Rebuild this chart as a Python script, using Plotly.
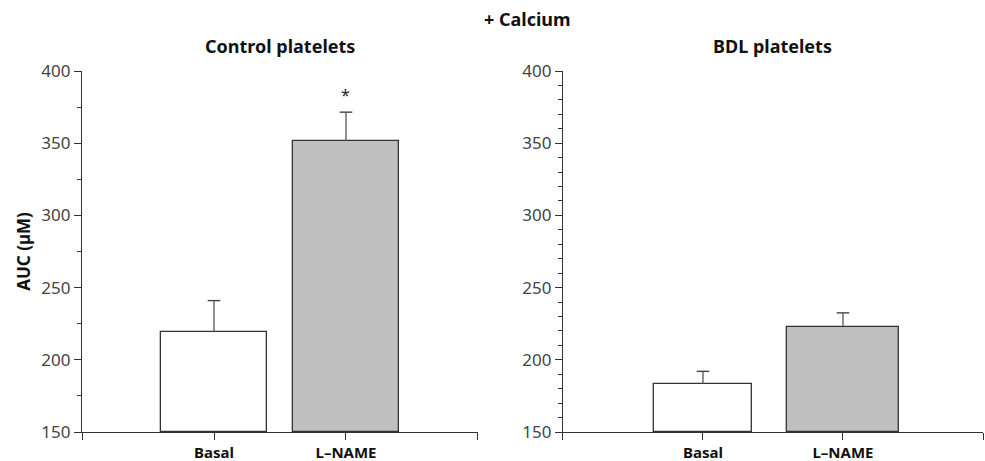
import plotly.graph_objects as go
from plotly.subplots import make_subplots

categories = ["Basal", "L-NAME"]
control_values = [219, 351.5]
control_errors = [22, 20]
bdl_values = [183.5, 222.5]
bdl_errors = [8.5, 10]
bar_colors = ["#ffffff", "#c0c0c0"]
control_widths = [0.8, 0.8]
bdl_widths = [0.7, 0.8]
panel_titles = ["Control platelets", "BDL platelets"]
main_title = "+ Calcium"
y_title = "AUC (µM)"
significance = ["", "*"]

FONT = "Noto Sans"
AX = "#333333"

fig = make_subplots(rows=1, cols=2, horizontal_spacing=0.0943)

xpos = list(range(len(categories)))
for col, (vals, errs, widths) in enumerate(
        [(control_values, control_errors, control_widths),
         (bdl_values, bdl_errors, bdl_widths)], start=1):
    fig.add_trace(go.Bar(
        x=xpos, y=[v - 150 for v in vals], base=150, width=widths,
        marker=dict(color=bar_colors, line=dict(color=AX, width=1.3)),
        error_y=dict(type="data", symmetric=False, array=errs,
                     arrayminus=[0] * len(errs), color="#555555",
                     thickness=1.3, width=0),
        showlegend=False, hoverinfo="skip"), row=1, col=col)
    # caps at the top of the error bars only
    fig.add_trace(go.Scatter(
        x=xpos, y=[v + e for v, e in zip(vals, errs)], mode="markers",
        marker=dict(symbol="line-ew", size=9,
                    line=dict(color="#444444", width=1.4)),
        showlegend=False, hoverinfo="skip", cliponaxis=False), row=1, col=col)

fig.update_layout(
    xaxis=dict(domain=[0, 0.4395]),
    xaxis2=dict(domain=[0.5338, 1]),
)

for i, minor_dtick in zip([1, 2], [25, 10]):
    xa = "xaxis" if i == 1 else "xaxis2"
    ya = "yaxis" if i == 1 else "yaxis2"
    fig.layout[xa].update(
        range=[-1, 2], tickvals=[-1, 0, 1, 2],
        ticktext=["", "<b>Basal</b>", "<b>L\u2013NAME</b>", ""],
        showline=True, linecolor=AX, linewidth=1.3,
        ticks="outside", ticklen=7, tickcolor=AX, tickwidth=1.3,
        showgrid=False, zeroline=False, automargin=False,
        tickfont=dict(family=FONT, size=15, color="#111111"))
    fig.layout[ya].update(
        range=[150, 400], tickvals=[150, 200, 250, 300, 350, 400],
        showline=True, linecolor=AX, linewidth=1.3,
        ticks="outside", ticklen=7, tickcolor=AX, tickwidth=1.3,
        minor=dict(dtick=minor_dtick, ticks="outside", ticklen=4,
                   tickcolor=AX, tickwidth=1.1, showgrid=False),
        showgrid=False, zeroline=False, automargin=False,
        tickfont=dict(family=FONT, size=17, color="#444444"))

fig.layout.yaxis.title = dict(text=f"<b>{y_title}</b>",
                              font=dict(family=FONT, size=17, color="#111111"),
                              standoff=6)

fig.add_annotation(text=f"<b>{main_title}</b>", xref="paper", yref="paper",
                   x=0.495, y=1.144, showarrow=False, xanchor="center", yanchor="middle",
                   font=dict(family=FONT, size=18, color="#111111"))
for i, t in enumerate(panel_titles):
    fig.add_annotation(text=f"<b>{t}</b>", xref=f"x{'' if i == 0 else 2} domain",
                       yref="paper", x=0.5, y=1.069, showarrow=False,
                       yanchor="middle",
                       font=dict(family=FONT, size=18, color="#111111"))
for j, s in enumerate(significance):
    if s:
        fig.add_annotation(text=s, x=j, y=control_values[j] + control_errors[j],
                           xref="x", yref="y", showarrow=False, yshift=17,
                           font=dict(family=FONT, size=16, color="#222222"))

fig.update_layout(
    width=985, height=461, margin=dict(l=82, r=2, t=71, b=29),
    plot_bgcolor="white", paper_bgcolor="white",
    font=dict(family=FONT), bargap=0,
)

fig.write_html("out.html")
